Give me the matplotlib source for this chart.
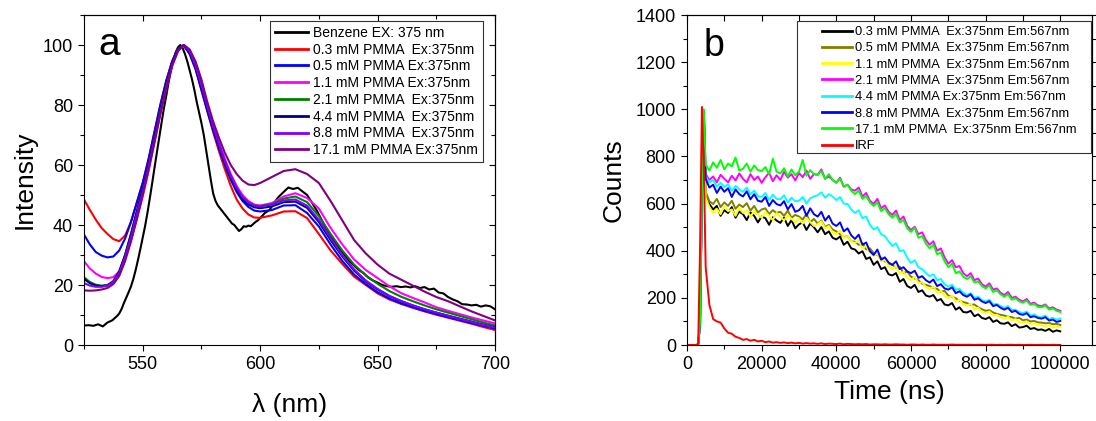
import numpy as np
import matplotlib
matplotlib.use("Agg")
import matplotlib.pyplot as plt
from matplotlib.ticker import MultipleLocator
from matplotlib.patches import Rectangle

plt.rcParams['font.family'] = ['Liberation Sans', 'DejaVu Sans']

# ---------------- Panel a: emission spectra ----------------
wl_benzene = [525, 527, 529, 531, 533, 535, 537, 539] + list(range(540, 601)) + list(range(602, 701, 2))
benzene = [6.5, 6.6, 6.4, 6.9, 6.2, 7.5, 8.2, 9.6,
           10.5, 12, 14, 15.8, 17.6, 19.5, 22, 25, 28.4, 32, 35.8, 39.6, 44, 48.8, 53.8, 59, 64, 69, 74, 78.8,
           83, 87.5, 91.5, 95, 97.5, 99.2, 100, 99, 97, 94.5, 91.5, 88.5, 85, 81, 77.5, 74, 70, 65, 60, 55,
           50.5, 48, 46.5, 45.5, 44.5, 43.5, 42.5, 41.5, 40.5, 40, 39, 38, 38.6, 39.6, 39.4, 39.8, 39.6, 40.3,
           41, 41.5, 42.3,
           44, 45, 47.5, 49.5, 51, 52.5, 52, 52.4, 51.2, 50, 47.5, 45, 42, 39, 36.5, 34, 32, 30, 28, 26.5,
           25, 24, 22.5, 21.5, 20.8, 20, 19.6, 19.4, 19.6, 19.3, 19.5, 19.2, 19.6, 19.0, 19.3, 18.5, 18.8,
           17.5, 17.2, 16, 15.2, 14.6, 13.6, 13.5, 13.2, 13.4, 12.8, 13.2, 12.9, 11.9]

wl_pmma = [525, 527.5, 530, 532.5, 535, 537.5, 540, 542.5, 545, 547.5, 550, 552.5, 555, 557.5, 560, 562.5,
           565, 567.5, 570, 572.5, 575, 577.5, 580, 582.5, 585, 587.5, 590, 592.5, 595, 597.5, 600,
           605, 610, 615, 620, 625, 630, 635, 640, 645, 650, 655, 660, 665, 670, 675, 680, 685, 690, 695, 700]

pmma_03 = [48.5, 45, 41.8, 39, 37, 35.3, 34.6, 36.5, 41, 47.5, 54, 62, 71, 80, 88, 94.5,
           98.7, 99.8, 97, 92, 85, 78, 71, 64.5, 58.5, 53, 48.5, 45.5, 43.5, 42.5, 42.4,
           43.2, 44.5, 44.6, 42.3, 37, 31.5, 27, 22.8, 20, 17.2, 15.2, 13.7, 12.4, 11.2, 10.1, 9.1, 8.1, 7.1, 6.0, 5.0]
pmma_05 = [36.8, 33.5, 31, 29.8, 29.2, 29.5, 31.5, 35.5, 41, 47.5, 54, 62, 71, 80, 88, 94.5,
           98.7, 99.8, 97, 92, 85, 78, 71.5, 65.5, 60, 55, 51, 48, 46, 44.8, 44.5,
           45, 46.5, 46.6, 44, 39.5, 33.5, 28, 23.5, 20.3, 17.6, 15.5, 13.9, 12.6, 11.4, 10.3, 9.3, 8.3, 7.3, 6.4, 5.5]
pmma_11 = [27.9, 25.5, 23.8, 22.7, 22.3, 22.6, 24.5, 29, 35, 42, 49.5, 58, 67.5, 77, 85.5, 93,
           98, 100, 98.3, 93.5, 87, 80, 73.5, 67.5, 62, 57, 53, 50, 48, 46.8, 46.5,
           47.3, 49.5, 50.6, 49, 45.5, 39, 33.5, 28.5, 25, 22.3, 19.6, 17.3, 15.7, 14.2, 12.6, 11.4, 10.3, 9.2, 8.2, 7.2]
pmma_21 = [22.6, 21, 20.1, 19.8, 20, 21.3, 24.5, 30, 37, 44.5, 52, 60.5, 69.5, 78.5, 87, 94,
           98.5, 100, 97.8, 93, 86.3, 79.2, 72.6, 66.6, 61.2, 56.3, 52.3, 49.3, 47.5, 46.5, 46.3,
           47, 48.8, 49.5, 47.6, 43, 37, 31.5, 26.8, 23.2, 20.4, 18, 16.1, 14.6, 13.2, 11.9, 10.8, 9.7, 8.6, 7.5, 6.5]
pmma_44 = [22, 20.6, 19.8, 19.6, 19.9, 21.2, 24.5, 30, 37, 44.5, 52, 60.5, 69.5, 78.5, 87, 94,
           98.5, 100, 97.6, 92.6, 85.8, 78.6, 72, 66, 60.5, 55.6, 51.6, 48.6, 46.8, 45.9, 45.6,
           46.2, 47.6, 47.8, 45.7, 41, 35, 29.5, 24.8, 21.2, 18.5, 16.3, 14.6, 13.2, 11.9, 10.8, 9.8, 8.8, 7.8, 6.8, 5.9]
pmma_88 = [20.6, 19.8, 19.4, 19.4, 19.8, 21, 24, 29.3, 36, 43.5, 51, 59.5, 68.5, 77.5, 86, 93.3,
           98.2, 100, 98, 93.2, 86.6, 79.5, 72.8, 66.8, 61.3, 56.4, 52.4, 49.4, 47.5, 46.5, 46.2,
           46.8, 48.2, 48.5, 46.4, 41.7, 35.7, 30, 25.2, 21.5, 18.7, 16.4, 14.7, 13.2, 11.9, 10.8, 9.7, 8.7, 7.7, 6.7, 5.8]
pmma_171 = [18.2, 18.1, 18.2, 18.5, 19, 20.3, 23, 28, 34.5, 42, 50, 58.5, 67.5, 77, 85.5, 93,
            98, 100, 98.5, 94.5, 88.5, 81, 74.5, 69, 64, 60, 57, 54.8, 53.5, 53.3, 54,
            56, 58, 58.6, 57, 54, 48, 41.5, 35, 30.5, 26.8, 23.8, 21.8, 19.8, 17.8, 16, 14.6, 12.9, 11.2, 9.7, 8.2]

spec_labels = ["Benzene EX: 375 nm", "0.3 mM PMMA  Ex:375nm", "0.5 mM PMMA Ex:375nm",
               "1.1 mM PMMA Ex:375nm", "2.1 mM PMMA  Ex:375nm", "4.4 mM PMMA  Ex:375nm",
               "8.8 mM PMMA  Ex:375nm", "17.1 mM PMMA Ex:375nm"]
spec_colors = ["#000000", "#FF0000", "#0000FF", "#FF00FF", "#008000", "#000080", "#8000FF", "#800080"]

# ---------------- Panel b: decay curves ----------------
t_early = [0, 1000, 2000, 2500, 3000, 3500, 4000, 4500]
t_ns = np.array(t_early + list(range(5000, 100001, 1000)))

dec_03 = [0, 0, 0, 0, 2, 90, 640, 990,
          640, 598, 575, 590, 548, 572, 560, 585, 540, 566,
          555, 530, 562, 548, 520, 545, 538, 510, 542, 528,
          518, 540, 505, 530, 495, 512, 520, 488, 515, 500,
          478, 500, 470, 482, 455, 448, 460, 425, 438, 410,
          405, 388, 398, 365, 372, 340, 355, 322, 330, 300,
          295, 305, 268, 280, 250, 242, 255, 225, 232, 210,
          205, 212, 188, 195, 172, 168, 178, 150, 160, 140,
          138, 145, 122, 130, 115, 110, 118, 98, 105, 92,
          90, 96, 80, 88, 74, 76, 82, 68, 72, 64,
          66, 60, 68, 56, 62, 58]
dec_05 = [0, 0, 0, 0, 2, 90, 640, 990,
          650, 610, 598, 620, 585, 605, 590, 612, 578, 596,
          585, 602, 570, 590, 562, 575, 580, 555, 572, 560,
          565, 548, 570, 540, 552, 545, 532, 556, 520, 535,
          515, 528, 500, 510, 490, 482, 470, 458, 462, 440,
          438, 425, 432, 405, 410, 390, 382, 370, 355, 345,
          340, 328, 332, 305, 312, 290, 282, 275, 260, 255,
          250, 242, 238, 225, 230, 210, 205, 198, 188, 182,
          178, 170, 172, 160, 152, 145, 148, 138, 132, 128,
          125, 120, 118, 112, 115, 105, 108, 100, 102, 96,
          95, 92, 94, 88, 90, 85]
dec_11 = [0, 0, 0, 0, 2, 90, 640, 985,
          625, 585, 560, 578, 555, 590, 568, 575, 548, 582,
          560, 572, 545, 568, 552, 540, 565, 548, 530, 560,
          545, 528, 552, 535, 520, 538, 515, 540, 522, 505,
          512, 525, 495, 505, 478, 470, 485, 455, 462, 440,
          432, 445, 410, 420, 392, 378, 388, 355, 362, 335,
          322, 335, 302, 310, 285, 275, 290, 262, 268, 245,
          238, 248, 222, 230, 208, 200, 210, 185, 192, 172,
          168, 175, 150, 158, 140, 135, 142, 125, 128, 118,
          112, 120, 104, 110, 98, 95, 100, 88, 92, 85,
          84, 78, 86, 74, 80, 76]
dec_21 = [0, 0, 0, 0, 2, 95, 650, 995,
          725, 700, 715, 690, 722, 705, 690, 718, 698, 728,
          705, 690, 725, 700, 715, 688, 712, 730, 695, 720,
          700, 735, 710, 725, 698, 730, 712, 740, 705, 725,
          722, 745, 705, 715, 700, 688, 710, 672, 680, 660,
          655, 668, 630, 645, 612, 598, 620, 580, 592, 565,
          552, 570, 530, 545, 505, 488, 502, 470, 478, 445,
          425, 440, 400, 410, 372, 345, 360, 330, 335, 305,
          292, 305, 275, 282, 258, 248, 262, 235, 240, 222,
          212, 225, 200, 205, 192, 185, 195, 175, 180, 168,
          165, 172, 155, 160, 150, 145]
dec_44 = [0, 0, 0, 0, 2, 95, 650, 995,
          715, 690, 700, 672, 688, 670, 682, 655, 675, 660,
          650, 668, 640, 655, 632, 628, 645, 615, 638, 620,
          618, 635, 605, 625, 610, 612, 628, 600, 622, 630,
          635, 648, 625, 640, 630, 615, 628, 600, 598, 575,
          560, 572, 538, 545, 510, 490, 500, 470, 462, 440,
          420, 432, 398, 402, 370, 348, 360, 330, 322, 305,
          292, 300, 275, 280, 258, 248, 256, 235, 238, 222,
          212, 220, 200, 205, 190, 185, 192, 172, 175, 165,
          158, 165, 148, 150, 140, 135, 142, 125, 130, 120,
          118, 125, 110, 115, 108, 112]
dec_88 = [0, 0, 0, 0, 2, 95, 650, 990,
          705, 668, 680, 645, 672, 650, 665, 628, 660, 640,
          630, 652, 618, 640, 612, 608, 628, 590, 615, 598,
          592, 610, 575, 598, 565, 572, 590, 548, 580, 555,
          545, 565, 528, 548, 515, 505, 520, 482, 495, 465,
          450, 468, 425, 435, 398, 382, 405, 362, 372, 350,
          340, 355, 322, 330, 312, 305, 315, 285, 292, 275,
          265, 278, 250, 258, 240, 235, 245, 220, 228, 212,
          205, 215, 192, 198, 185, 178, 186, 165, 170, 158,
          150, 158, 140, 145, 132, 128, 135, 118, 122, 115,
          112, 118, 104, 108, 98, 102]
dec_171 = [0, 0, 0, 0, 3, 100, 660, 1000,
           765, 740, 775, 752, 785, 745, 770, 758, 795, 740,
           748, 770, 735, 762, 742, 738, 755, 725, 790, 735,
           728, 750, 715, 745, 720, 735, 785, 718, 742, 725,
           722, 738, 705, 725, 700, 690, 705, 672, 680, 655,
           640, 655, 620, 632, 605, 590, 605, 568, 580, 555,
           540, 556, 520, 530, 495, 480, 498, 455, 462, 430,
           410, 425, 385, 392, 355, 330, 345, 305, 312, 290,
           280, 292, 265, 270, 250, 240, 252, 225, 232, 215,
           205, 215, 192, 198, 185, 180, 188, 170, 175, 162,
           160, 168, 150, 155, 145, 140]
irf = [0, 0, 0, 0, 5, 420, 1010, 760,
       330, 170, 110, 100, 95, 70, 52, 48, 35, 30,
       22, 25, 18, 22, 15, 18, 12, 15, 10, 12,
       9, 11, 8, 10, 7, 9, 6, 8, 6, 7,
       5, 7, 4, 6, 5, 4, 6, 3, 5, 4,
       3, 4, 3, 4, 2, 3, 3, 2, 3, 2,
       2, 3, 2, 2, 1, 2, 2, 1, 2, 1,
       1, 2, 1, 1, 1, 1, 2, 1, 1, 1,
       1, 1, 0, 1, 1, 0, 1, 1, 0, 1,
       0, 1, 1, 0, 1, 0, 0, 1, 0, 0,
       1, 0, 0, 1, 0, 0]

dec_labels = ["0.3 mM PMMA  Ex:375nm Em:567nm", "0.5 mM PMMA  Ex:375nm Em:567nm",
              "1.1 mM PMMA  Ex:375nm Em:567nm", "2.1 mM PMMA  Ex:375nm Em:567nm",
              "4.4 mM PMMA Ex:375nm Em:567nm", "8.8 mM PMMA  Ex:375nm Em:567nm",
              "17.1 mM PMMA  Ex:375nm Em:567nm", "IRF"]
dec_colors = ["#000000", "#808000", "#FFFF00", "#FF00FF", "#00FFFF", "#0000FF", "#00FF00", "#FF0000"]

# ---------------- Figure ----------------
W, H = 1096, 421
fig = plt.figure(figsize=(W / 100, H / 100), dpi=100)

def px_axes(x0, x1, y0, y1):
    return fig.add_axes([x0 / W, 1 - y1 / H, (x1 - x0) / W, (y1 - y0) / H])

TICK_FS = 13
LABEL_FS = 19

def style_axes(ax):
    for s in ax.spines.values():
        s.set_linewidth(0.8)
    ax.tick_params(which='both', direction='out', width=0.8, labelsize=TICK_FS, colors='black')
    ax.tick_params(which='major', length=4.5)
    ax.tick_params(which='minor', length=2.8)

# Panel a
ax1 = px_axes(84, 495, 15, 345)
series_a = [benzene, pmma_03, pmma_05, pmma_11, pmma_21, pmma_44, pmma_88, pmma_171]
for i, (y, c, lab) in enumerate(zip(series_a, spec_colors, spec_labels)):
    x = wl_benzene if i == 0 else wl_pmma
    ax1.plot(x, y, color=c, lw=1.5, label=lab)
ax1.set_xlim(525, 700)
ax1.set_ylim(0, 110)
ax1.xaxis.set_major_locator(MultipleLocator(50))
ax1.xaxis.set_minor_locator(MultipleLocator(25))
ax1.yaxis.set_major_locator(MultipleLocator(20))
ax1.yaxis.set_minor_locator(MultipleLocator(10))
style_axes(ax1)
for sec, axis in ((ax1.secondary_xaxis('top'), 'x'), (ax1.secondary_yaxis('right'), 'y')):
    loc = sec.xaxis if axis == 'x' else sec.yaxis
    loc.set_major_locator(MultipleLocator(50 if axis == 'x' else 20))
    loc.set_minor_locator(MultipleLocator(25 if axis == 'x' else 10))
    sec.tick_params(which='both', direction='in', width=0.8, labeltop=False, labelright=False)
    sec.tick_params(which='major', length=4.5)
    sec.tick_params(which='minor', length=2.8)
    for s in sec.spines.values():
        s.set_linewidth(0.8)
ax1.set_xlabel("λ (nm)", fontsize=LABEL_FS, labelpad=14)
ax1.set_ylabel("Intensity", fontsize=LABEL_FS, labelpad=4)
ax1.text(0.036, 0.879, "a", transform=ax1.transAxes, fontsize=28, va='baseline', ha='left')
leg1 = ax1.legend(loc='upper right', bbox_to_anchor=(0.971, 0.982), borderaxespad=0,
                  fontsize=10, handlelength=2.4, handletextpad=0.36, labelspacing=0.2,
                  borderpad=0.35, fancybox=False, framealpha=1, edgecolor='#333333')
leg1.get_frame().set_linewidth(0.8)
for ln in leg1.get_lines():
    ln.set_linewidth(2.0)

# Panel b
ax2 = px_axes(687, 1092, 15, 345)
series_b = [dec_03, dec_05, dec_11, dec_21, dec_44, dec_88, dec_171, irf]
for y, c, lab in zip(series_b, dec_colors, dec_labels):
    ax2.plot(t_ns, y, color=c, lw=1.4, label=lab)
ax2.set_xlim(0, 108500)
ax2.set_ylim(0, 1400)
ax2.xaxis.set_major_locator(MultipleLocator(20000))
ax2.xaxis.set_minor_locator(MultipleLocator(10000))
ax2.yaxis.set_major_locator(MultipleLocator(200))
ax2.yaxis.set_minor_locator(MultipleLocator(100))
style_axes(ax2)
secx = ax2.secondary_xaxis('top')
secx.xaxis.set_major_locator(MultipleLocator(10000))
secx.tick_params(which='both', direction='in', width=0.8, length=4.5, labeltop=False)
secy = ax2.secondary_yaxis('right')
secy.yaxis.set_major_locator(MultipleLocator(200))
secy.yaxis.set_minor_locator(MultipleLocator(100))
secy.tick_params(which='both', direction='out', width=0.8, labelright=False)
secy.tick_params(which='major', length=4.5)
secy.tick_params(which='minor', length=2.8)
for s in list(secx.spines.values()) + list(secy.spines.values()):
    s.set_linewidth(0.8)
ax2.set_xlabel("Time (ns)", fontsize=LABEL_FS, labelpad=5)
ax2.set_ylabel("Counts", fontsize=LABEL_FS, labelpad=7)
ax2.text(0.04, 0.876, "b", transform=ax2.transAxes, fontsize=27, va='baseline', ha='left')
leg2 = ax2.legend(loc='upper left', bbox_to_anchor=((822 - 687) / 405, (345 - 26) / 330),
                  borderaxespad=0, borderpad=0, frameon=False, fontsize=9.3, handlelength=2.3,
                  handletextpad=0.25, labelspacing=0.33)
for ln in leg2.get_lines():
    ln.set_linewidth(2.0)
box = Rectangle(((797 - 687) / 405, (345 - 153) / 330), (1091 - 797) / 405, (153 - 21) / 330,
                transform=ax2.transAxes, fill=True, facecolor='white', edgecolor='#333333',
                lw=0.8, zorder=4.5)
ax2.add_patch(box)
leg2.set_zorder(5)

fig.savefig("out.png", dpi=100)
